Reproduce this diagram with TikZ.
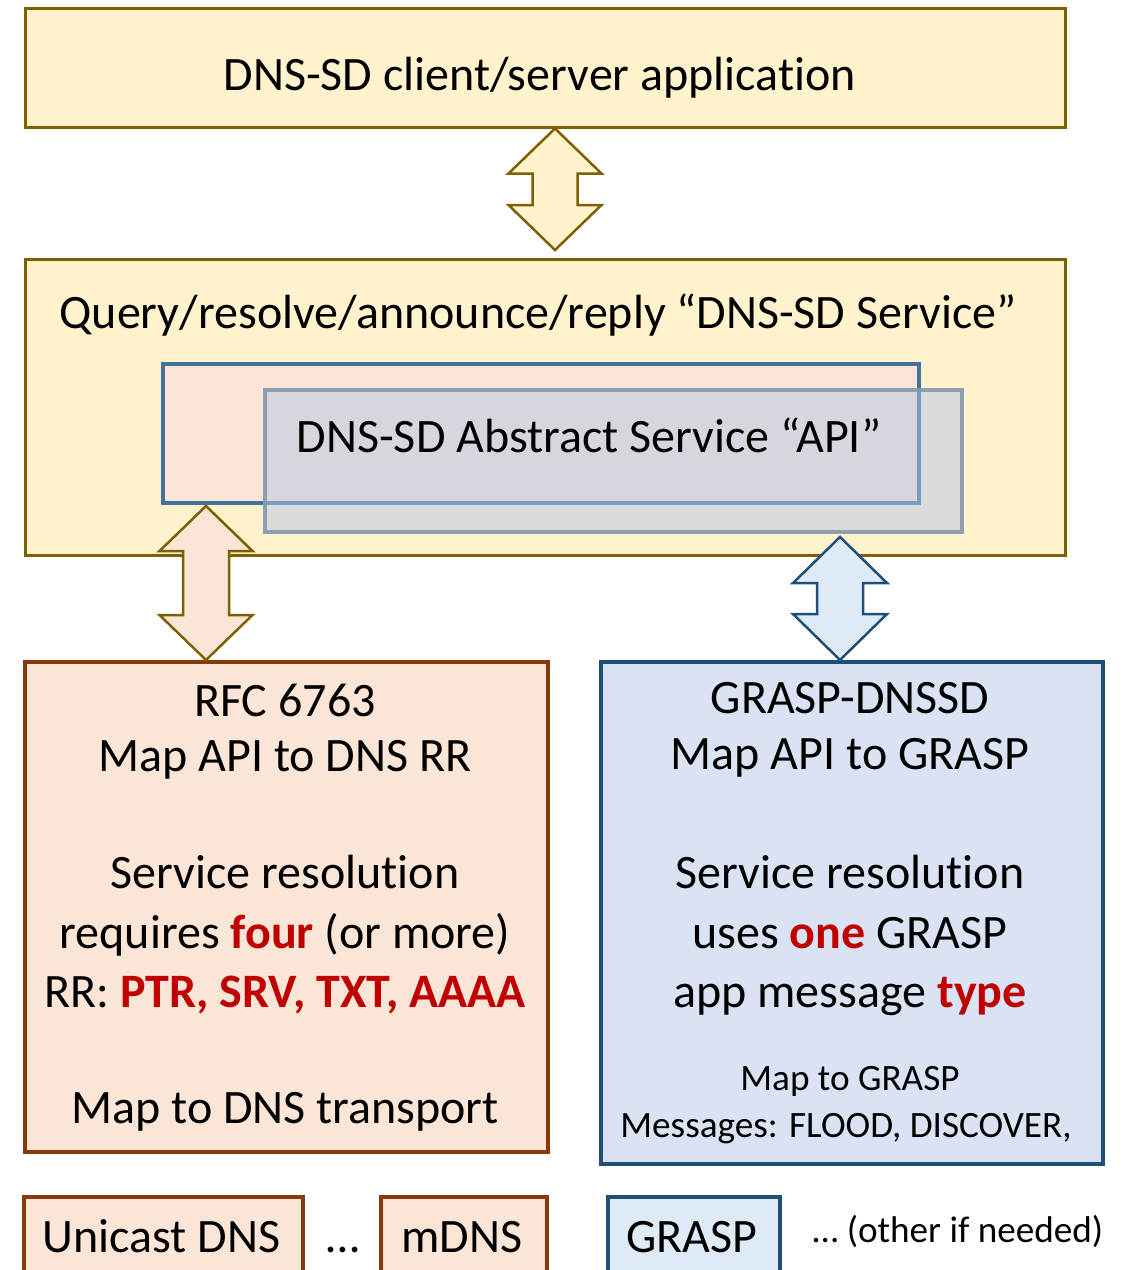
\documentclass[tikz,border=0pt]{standalone}
\usepackage{fontspec}
\setmainfont{Carlito}[Ligatures=NoCommon]
\usetikzlibrary{calc}

\definecolor{yelfill}{HTML}{FFF2CC}
\definecolor{yeldraw}{HTML}{7F6000}
\definecolor{pinkfill}{HTML}{FBE5D6}
\definecolor{browndraw}{HTML}{843C0C}
\definecolor{bluefill}{HTML}{DAE3F3}
\definecolor{paleblue}{HTML}{DEEBF7}
\definecolor{navy}{HTML}{1F4E79}
\definecolor{apiblue}{HTML}{41719C}
\definecolor{veilfill}{HTML}{B4C7E7}
\definecolor{veildraw}{HTML}{8497B0}
\definecolor{hired}{HTML}{C00000}

\newcommand\fbig{\fontsize{48}{57}\selectfont}
\newcommand\fsmall{\fontsize{37.2}{45}\selectfont}
\newcommand\hot[1]{\textcolor{hired}{\bfseries #1}}

% block double arrow: style, top tip, bottom tip, half head width, half shaft width, head length
\newcommand\dblarrow[6]{%
  \draw[#1] (#2) -- ($(#2)+(#4,-#6)$) -- ($(#2)+(#5,-#6)$) -- ($(#3)+(#5,#6)$)
    -- ($(#3)+(#4,#6)$) -- (#3) -- ($(#3)+(-#4,#6)$) -- ($(#3)+(-#5,#6)$)
    -- ($(#2)+(-#5,-#6)$) -- ($(#2)+(-#4,-#6)$) -- cycle;}

\tikzset{
  panel/.style={rectangle, anchor=north west, inner sep=0pt, line join=miter},
  ybox/.style={panel, fill=yelfill, draw=yeldraw, line width=2.5pt},
  apibox/.style={panel, fill=pinkfill, draw=apiblue, line width=4pt},
  veil/.style={panel, fill=veilfill, fill opacity=0.5, draw=veildraw, draw opacity=0.9, line width=4pt},
  dnsbox/.style={panel, fill=pinkfill, draw=browndraw, line width=4pt},
  graspbox/.style={panel, fill=bluefill, draw=navy, line width=4pt},
  tbox/.style={panel, fill=paleblue, draw=navy, line width=4pt},
  txt/.style={anchor=base, inner sep=0pt, font=\fbig},
  stxt/.style={anchor=base, inner sep=0pt, font=\fsmall},
  yarrow/.style={fill=yelfill, draw=yeldraw, line width=2.5pt, line join=miter},
  parrow/.style={fill=pinkfill, draw=yeldraw, line width=2.5pt, line join=miter},
  barrow/.style={fill=paleblue, draw=navy, line width=2.5pt, line join=miter},
}

\begin{document}
\begin{tikzpicture}[x=1pt, y=1pt]
\useasboundingbox (0,0) rectangle (1122,-1270);
\clip (0,0) rectangle (1122,-1270);

% application layer
\node[ybox, minimum width=1040pt, minimum height=119pt] (app) at (24,-7) {};
\node[txt] (appt) at (540,-90) {DNS-SD client/server application};

% service layer with the abstract API
\node[ybox, minimum width=1040pt, minimum height=296pt] (query) at (24,-258) {};
\node[txt] (queryt) at (538,-328) {Query/resolve/announce/reply “DNS-SD Service”};
\node[apibox, minimum width=756pt, minimum height=139pt] (api) at (161,-361.5) {};
\node[veil, minimum width=697.5pt, minimum height=142pt] (veil) at (262.5,-387.5) {};
\node[txt] (apit) at (589,-452) {DNS-SD Abstract Service “API”};

% mapping boxes
\node[dnsbox, minimum width=523pt, minimum height=490pt] (rfc) at (23,-660) {};
\node[txt] (rfc1) at (285,-716) {RFC 6763};
\node[txt] (rfc2) at (285,-771) {Map API to DNS RR};
\node[txt] (rfc3) at (285,-888) {Service resolution};
\node[txt] (rfc4) at (285,-948) {requires \hot{four} (or more)};
\node[txt] (rfc5) at (285,-1007) {RR: \hot{PTR, SRV, TXT, AAAA}};
\node[txt] (rfc6) at (285,-1123) {Map to DNS transport};

\node[graspbox, minimum width=502pt, minimum height=502pt] (grasp) at (599,-660) {};
\node[txt] (gr1) at (850,-713) {GRASP-DNSSD};
\node[txt] (gr2) at (850,-769) {Map API to GRASP};
\node[txt] (gr3) at (850,-888) {Service resolution};
\node[txt] (gr4) at (850,-948) {uses \hot{one} GRASP};
\node[txt] (gr5) at (850,-1007) {app message \hot{type}};
\node[stxt] (gr6) at (850,-1090) {Map to GRASP};
\node[stxt] (gr7) at (846,-1137) {Messages: FLOOD, DISCOVER,};

% transports
\node[dnsbox, minimum width=279pt, minimum height=120pt] (ucast) at (22,-1195) {};
\node[txt] (ucastt) at (161.5,-1252) {Unicast DNS};
\node[txt] (dots) at (343,-1252) {…};
\node[dnsbox, minimum width=166pt, minimum height=120pt] (mdns) at (379,-1195) {};
\node[txt] (mdnst) at (462,-1252) {mDNS};
\node[tbox, minimum width=172pt, minimum height=120pt] (gtrans) at (606,-1195) {};
\node[txt] (gtranst) at (692,-1252) {GRASP};
\node[stxt] (other) at (958,-1242) {… (other if needed)};

% block arrows between the layers
\coordinate (xa) at (555,0);
\coordinate (xb) at (206,0);
\coordinate (xc) at (840,0);
\coordinate (a1t) at (app.south -| xa);
\coordinate (a1b) at ($(query.north -| xa)+(0,8)$);
\coordinate (a2t) at ($(api.south -| xb)+(0,-1.5)$);
\coordinate (a2b) at (rfc.north -| xb);
\coordinate (a3t) at ($(veil.south -| xc)+(0,-3.5)$);
\coordinate (a3b) at (grasp.north -| xc);
\dblarrow{yarrow}{a1t}{a1b}{46.5}{22.5}{45}
\dblarrow{parrow}{a2t}{a2b}{46.5}{23}{45}
\dblarrow{barrow}{a3t}{a3b}{47}{23}{46}
\end{tikzpicture}
\end{document}
